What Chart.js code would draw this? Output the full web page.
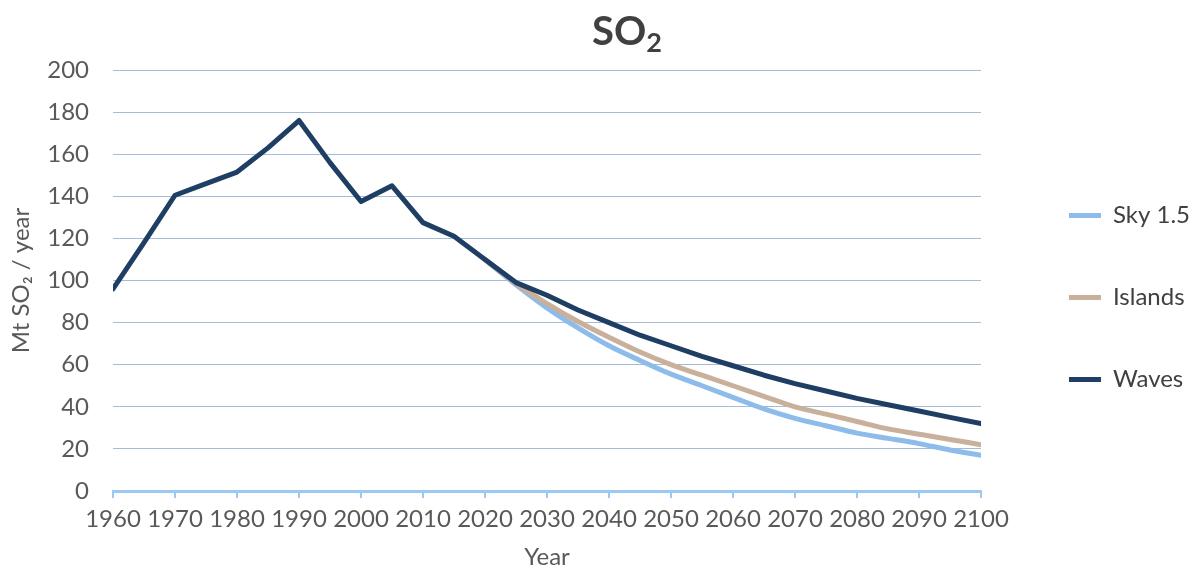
<!DOCTYPE html>
<html>
<head>
<meta charset="utf-8">
<script src="https://cdn.jsdelivr.net/npm/chart.js@4.4.1/dist/chart.umd.min.js"></script>
<style>
  html, body { margin: 0; padding: 0; background: #ffffff; }
  #wrap { position: relative; width: 1196px; height: 574px; }
  #title { position: absolute; top: 6px; left: 627px; transform: translateX(-50%);
           font-family: Lato, "DejaVu Sans", sans-serif; font-weight: bold; font-size: 40px;
           color: #404040; white-space: nowrap; line-height: 1.2; }
  #title sub { font-size: 27px; vertical-align: -7px; line-height: 0; }
</style>
</head>
<body>
<div id="wrap">
  <div id="title">SO<sub>2</sub></div>
  <canvas id="c" width="1196" height="574"></canvas>
</div>
<script>
// ---- data ----
const histYears = [1960, 1965, 1970, 1975, 1980, 1985, 1990, 1995, 2000, 2005, 2010, 2015];
const projYears = [2020, 2025, 2030, 2035, 2040, 2045, 2050, 2055, 2060, 2065, 2070, 2075, 2080, 2085, 2090, 2095, 2100];
const wavesHist = [96, 118, 140.5, 146, 151.5, 163, 176, 156, 137.5, 145, 127.5, 121];
const wavesProj = [110, 99, 93, 86, 80, 74, 69, 64, 59.5, 55, 51, 47.5, 44, 41, 38, 35, 32];
const islandsProj = [110, 98.5, 89, 80.5, 73, 66, 60, 55, 50, 45, 40, 36.5, 33, 29.5, 27, 24.5, 22];
const skyProj = [110, 98, 87, 77.5, 69, 62, 55.5, 50, 44.5, 39, 34.5, 31, 27.5, 25, 22.5, 19.5, 17];
const seriesNames = ["Sky 1.5", "Islands", "Waves"];
const xTicks = [1960, 1970, 1980, 1990, 2000, 2010, 2020, 2030, 2040, 2050, 2060, 2070, 2080, 2090, 2100];
const yTicks = [0, 20, 40, 60, 80, 100, 120, 140, 160, 180, 200];
const xTitle = "Year";
const yTitle = "Mt SO\u2082 / year";

const toPts = (xs, ys) => xs.map((x, i) => ({ x: x, y: ys[i] }));
const wavesPts = toPts(histYears.concat(projYears), wavesHist.concat(wavesProj));

const FONT = "Lato, 'DejaVu Sans', sans-serif";
const lineBase = { pointRadius: 0, pointHoverRadius: 0, borderWidth: 5, tension: 0,
                   borderCapStyle: 'round', borderJoinStyle: 'round', fill: false };

const legendShift = {
  id: 'legendShift',
  afterLayout(chart) {
    const l = chart.legend;
    if (!l) return;
    l.left += 30; l.right += 30;
    l.top += 17; l.bottom += 17;
  }
};

new Chart(document.getElementById('c'), {
  type: 'line',
  data: {
    datasets: [
      Object.assign({}, lineBase, { label: seriesNames[0], data: toPts(projYears, skyProj),
        borderColor: '#8dbbea', backgroundColor: '#8dbbea', order: 3, cubicInterpolationMode: 'monotone' }),
      Object.assign({}, lineBase, { label: seriesNames[1], data: toPts(projYears, islandsProj),
        borderColor: '#c9b09b', backgroundColor: '#c9b09b', order: 2, cubicInterpolationMode: 'monotone' }),
      Object.assign({}, lineBase, { label: seriesNames[2], data: wavesPts,
        borderColor: '#1f3e63', backgroundColor: '#1f3e63', order: 1 })
    ]
  },
  plugins: [legendShift],
  options: {
    responsive: false,
    animation: false,
    events: [],
    layout: { padding: { top: 70, right: 26, left: 0, bottom: 0 } },
    plugins: {
      title: { display: false },
      tooltip: { enabled: false },
      legend: {
        position: 'right',
        fullSize: false,
        labels: {
          usePointStyle: true,
          pointStyle: 'line',
          pointStyleWidth: 32,
          padding: 58,
          color: '#404040',
          font: { family: FONT, size: 24 },
          sort: (a, b) => a.datasetIndex - b.datasetIndex
        }
      }
    },
    scales: {
      x: {
        type: 'linear',
        min: xTicks[0],
        max: xTicks[xTicks.length - 1],
        afterBuildTicks: (s) => { s.ticks = xTicks.map(v => ({ value: v })); },
        afterFit: (s) => { s.height = 83; },
        ticks: { color: '#595959', font: { family: FONT, size: 24 }, padding: 7,
                 maxRotation: 0, autoSkip: false, callback: (v) => String(v) },
        grid: { drawOnChartArea: false, drawTicks: true, tickLength: 7, color: '#9cc8f2', lineWidth: 2 },
        border: { display: true, color: '#9cc8f2', width: 3 },
        title: { display: true, text: xTitle, color: '#595959', font: { family: FONT, size: 24 },
                 padding: { top: 0, bottom: 2 } }
      },
      y: {
        min: yTicks[0],
        max: yTicks[yTicks.length - 1],
        afterBuildTicks: (s) => { s.ticks = yTicks.map(v => ({ value: v })); },
        afterFit: (s) => { s.width = 113; },
        ticks: { color: '#595959', font: { family: FONT, size: 24 }, padding: 24 },
        grid: { drawTicks: false, color: '#a3bdd9', lineWidth: 1 },
        border: { display: false },
        title: { display: true, text: yTitle, color: '#595959', font: { family: FONT, size: 24 },
                 padding: { top: 7, bottom: 0 } }
      }
    }
  }
});
</script>
</body>
</html>
